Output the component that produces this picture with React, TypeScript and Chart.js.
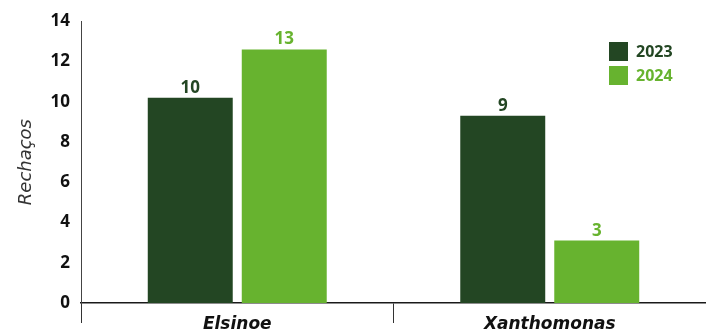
import React, { useEffect, useRef } from "react";
import { Chart, registerables } from "chart.js";

Chart.register(...registerables);

const categories = ["Elsinoe", "Xanthomonas"];
const seriesNames = ["2023", "2024"];
const values2023 = [10.2, 9.3];
const values2024 = [12.6, 3.1];
const labels2023 = ["10", "9"];
const labels2024 = ["13", "3"];
const yMin = 0;
const yMax = 14;
const yStep = 2;
const yTitle = "Rechaços";

const DARK = "#234623";
const LIGHT = "#67B32F";
const seriesColors = [DARK, LIGHT];
const seriesLabels = [labels2023, labels2024];

const dataLabelPlugin = {
  id: "dataLabels",
  afterDatasetsDraw(chart: any) {
    const ctx = chart.ctx;
    ctx.save();
    ctx.font = "bold 17px 'Open Sans'";
    ctx.textAlign = "center";
    ctx.textBaseline = "alphabetic";
    chart.data.datasets.forEach((ds: any, di: number) => {
      const meta = chart.getDatasetMeta(di);
      meta.data.forEach((bar: any, i: number) => {
        ctx.fillStyle = seriesColors[di];
        ctx.fillText(seriesLabels[di][i], bar.x, bar.y - 5);
      });
    });
    ctx.restore();
  },
};

const legendPlugin = {
  id: "customLegend",
  afterDraw(chart: any) {
    const ctx = chart.ctx;
    ctx.save();
    ctx.font = "bold 16px 'Open Sans'";
    ctx.textAlign = "left";
    ctx.textBaseline = "middle";
    seriesNames.forEach((name, i) => {
      const y = 42 + i * 24;
      ctx.fillStyle = seriesColors[i];
      ctx.fillRect(609, y, 19, 19);
      ctx.fillText(name, 636, y + 10.5);
    });
    ctx.restore();
  },
};

export default function App() {
  const ref = useRef<HTMLCanvasElement | null>(null);
  useEffect(() => {
    if (!ref.current) return;
    const chart = new Chart(ref.current, {
      type: "bar",
      data: {
        labels: categories,
        datasets: [
          {
            label: seriesNames[0],
            data: values2023,
            backgroundColor: DARK,
            categoryPercentage: 0.6016,
            barPercentage: 0.904,
          },
          {
            label: seriesNames[1],
            data: values2024,
            backgroundColor: LIGHT,
            categoryPercentage: 0.6016,
            barPercentage: 0.904,
          },
        ],
      },
      options: {
        animation: false,
        responsive: true,
        maintainAspectRatio: false,
        layout: { padding: { top: 20, left: 0, right: 0, bottom: 0 } },
        plugins: {
          legend: { display: false },
          tooltip: { enabled: false },
        },
        scales: {
          x: {
            type: "category",
            offset: true,
            afterFit: (s: any) => {
              s.height = 30;
            },
            grid: {
              display: true,
              drawOnChartArea: false,
              drawTicks: true,
              tickLength: 20,
              offset: true,
              color: "#333",
              lineWidth: 1,
            },
            border: { display: true, color: "#1a1a1a", width: 1.5 },
            ticks: {
              padding: -9,
              color: "#111",
              font: { family: "'DejaVu Sans'", size: 17, weight: "bold", style: "italic" },
            },
          },
          y: {
            min: yMin,
            max: yMax,
            afterFit: (s: any) => {
              s.width = 81;
            },
            grid: { display: false, drawTicks: false },
            border: { display: true, color: "#444", width: 1 },
            ticks: {
              stepSize: yStep,
              padding: 11,
              color: "#111",
              font: { family: "'Open Sans'", size: 17, weight: "bold" },
            },
            title: {
              display: true,
              text: yTitle,
              color: "#333",
              padding: { top: 16, bottom: 0 },
              font: { family: "'DejaVu Sans'", size: 18, style: "italic", weight: "normal" },
            },
          },
        },
      },
      plugins: [dataLabelPlugin, legendPlugin],
    } as any);
    return () => chart.destroy();
  }, []);
  return (
    <div style={{ position: "fixed", left: 0, top: 0, width: 706, height: 333, background: "#fff" }}>
      <canvas ref={ref} />
    </div>
  );
}
